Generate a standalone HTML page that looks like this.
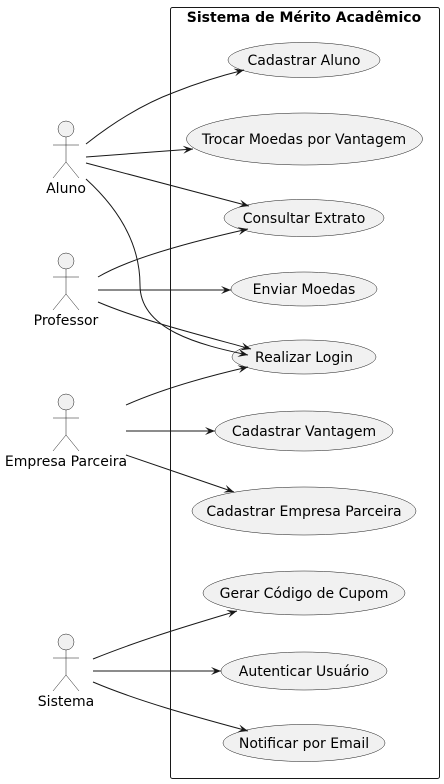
<!DOCTYPE html>
<html><head><meta charset="utf-8"><style>
html,body{margin:0;padding:0;background:#fff;width:444px;height:784px;overflow:hidden}
text{font-family:"DejaVu Sans","Liberation Sans",sans-serif;font-size:14px;fill:#000}
</style></head><body>
<svg width="444" height="784" viewBox="0 0 444 784" xmlns="http://www.w3.org/2000/svg">
<defs><marker id="a" markerWidth="12" markerHeight="10" refX="10" refY="4" orient="auto" markerUnits="userSpaceOnUse"><path d="M0,0 L10,4 L0,8 L4,4 Z" fill="#181818"/></marker></defs>
<rect x="170.5" y="7.5" width="269" height="771" rx="2" fill="none" stroke="#181818" stroke-width="1"/>
<text x="304" y="22" text-anchor="middle" style="font-weight:bold">Sistema de Mérito Acadêmico</text>
<g fill="#f1f1f1" stroke="#181818" stroke-width="0.5">
<ellipse cx="304" cy="60" rx="76" ry="17.5"/>
<ellipse cx="304.5" cy="139" rx="118" ry="26"/>
<ellipse cx="304" cy="218" rx="80" ry="18.5"/>
<ellipse cx="304" cy="289" rx="73" ry="17"/>
<ellipse cx="304" cy="357" rx="72" ry="17"/>
<ellipse cx="304" cy="431" rx="89" ry="20"/>
<ellipse cx="304" cy="511" rx="112" ry="24"/>
<ellipse cx="304" cy="593" rx="101" ry="22"/>
<ellipse cx="304" cy="671" rx="83" ry="19"/>
<ellipse cx="304" cy="743" rx="81" ry="18.5"/>
</g>
<g text-anchor="middle">
<text x="304" y="65">Cadastrar Aluno</text>
<text x="304" y="144">Trocar Moedas por Vantagem</text>
<text x="304" y="223">Consultar Extrato</text>
<text x="304" y="294">Enviar Moedas</text>
<text x="304" y="362">Realizar Login</text>
<text x="304" y="436">Cadastrar Vantagem</text>
<text x="304" y="516">Cadastrar Empresa Parceira</text>
<text x="304" y="598">Gerar Código de Cupom</text>
<text x="304" y="676">Autenticar Usuário</text>
<text x="304" y="748">Notificar por Email</text>
</g>
<g fill="#f1f1f1" stroke="#181818" stroke-width="0.5">
<g transform="translate(66,129)"><circle cx="0" cy="0" r="8"/><path d="M0,8 V33 M-13,16 H13 M0,33 L-13,49 M0,33 L13,49" fill="none"/></g>
<g transform="translate(66,261)"><circle cx="0" cy="0" r="8"/><path d="M0,8 V33 M-13,16 H13 M0,33 L-13,49 M0,33 L13,49" fill="none"/></g>
<g transform="translate(66,402)"><circle cx="0" cy="0" r="8"/><path d="M0,8 V33 M-13,16 H13 M0,33 L-13,49 M0,33 L13,49" fill="none"/></g>
<g transform="translate(66,642)"><circle cx="0" cy="0" r="8"/><path d="M0,8 V33 M-13,16 H13 M0,33 L-13,49 M0,33 L13,49" fill="none"/></g>
</g>
<g text-anchor="middle">
<text x="66" y="193">Aluno</text>
<text x="66" y="325">Professor</text>
<text x="66" y="466">Empresa Parceira</text>
<text x="66" y="706">Sistema</text>
</g>
<g fill="none" stroke="#181818" stroke-width="1" marker-end="url(#a)">
<path d="M86,144 C110,125 140,105 175,92 C195,84 220,76 244,70"/>
<path d="M86,157 L193,149"/>
<path d="M86,163 L249,206"/>
<path d="M86,179 C120,210 140,245 140,285 C140,330 200,345 248,355"/>
<path d="M98,277 C130,258 190,242 248,229"/>
<path d="M98,290 L231,290"/>
<path d="M98,302 C140,320 200,335 251,349"/>
<path d="M126,405 C160,390 200,378 248,367"/>
<path d="M126,431 L215,431"/>
<path d="M126,455 C160,467 200,480 234,492"/>
<path d="M93,659 C140,640 190,625 237,611"/>
<path d="M93,671 L221,671"/>
<path d="M93,682 C140,702 200,718 248,731"/>
</g>
</svg>
</body></html>
